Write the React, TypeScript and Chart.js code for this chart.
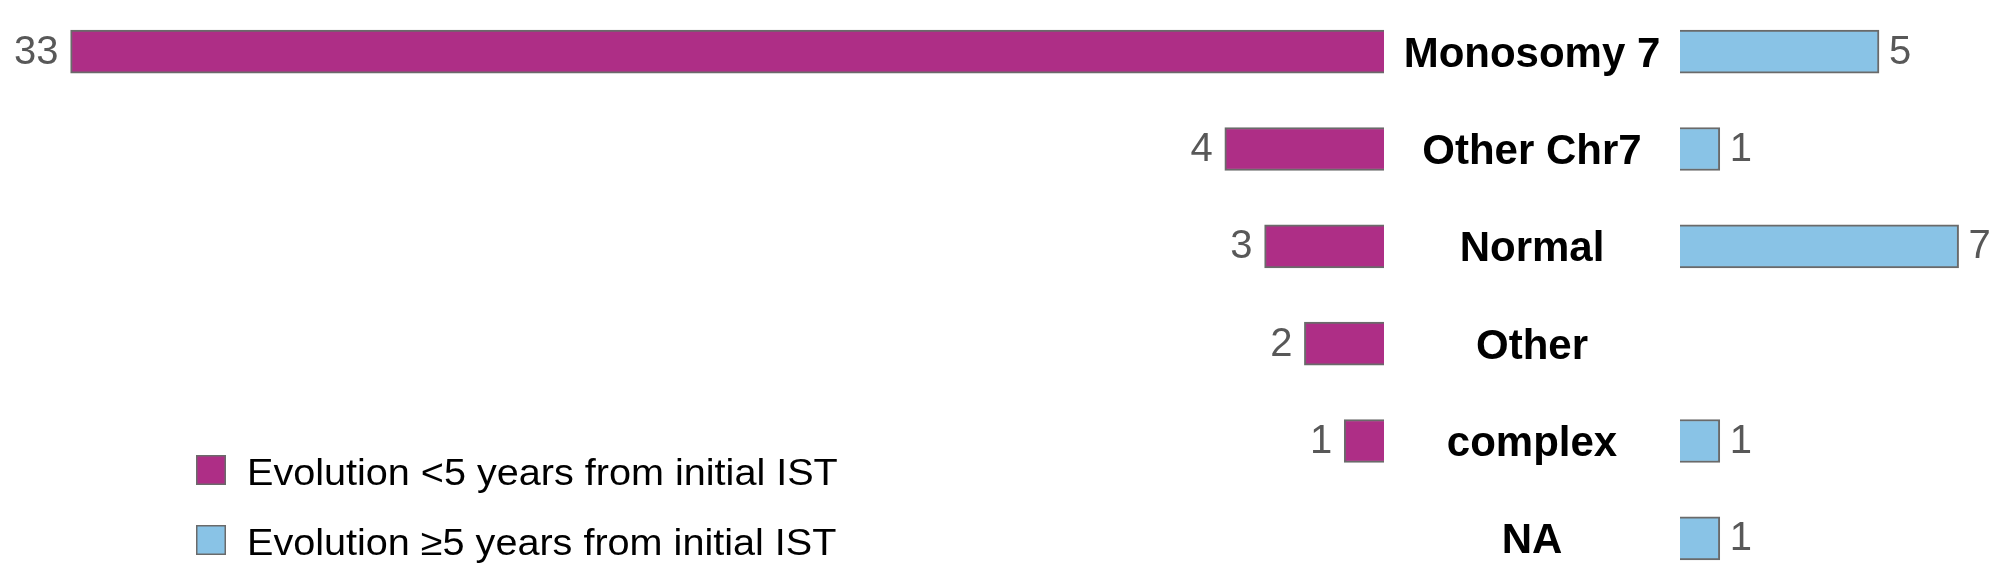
import React, { useEffect, useRef } from "react";
import { Chart, registerables } from "chart.js";

Chart.register(...registerables);

const categories = ["Monosomy 7", "Other Chr7", "Normal", "Other", "complex", "NA"];
const under5Years = [33, 4, 3, 2, 1, null];
const over5Years = [5, 1, 7, null, 1, 1];
const seriesNames = [
  "Evolution <5 years from initial IST",
  "Evolution \u22655 years from initial IST",
];

const FONT = '"Liberation Sans", Arial, Helvetica, sans-serif';
const W = 2000;
const H = 590;
const PX_PER_UNIT = 39.8;
const LEFT_ZERO_X = 1384;
const RIGHT_ZERO_X = 1680;
const MAGENTA = "#AE2E86";
const BLUE = "#89C3E6";
const BORDER = "#6a6a6a";

const labelsPlugin = {
  id: "customLabels",
  afterDatasetsDraw(chart: any) {
    const ctx = chart.ctx;
    ctx.save();
    // value labels
    ctx.font = `40px ${FONT}`;
    ctx.fillStyle = "#585858";
    ctx.textBaseline = "middle";
    chart.data.datasets.forEach((ds: any, di: number) => {
      const meta = chart.getDatasetMeta(di);
      meta.data.forEach((el: any, i: number) => {
        const v = ds.data[i];
        if (v === null || v === undefined) return;
        if (di === 0) {
          ctx.textAlign = "right";
          ctx.fillText(String(v), el.x - 12, el.y + 1);
        } else {
          ctx.textAlign = "left";
          ctx.fillText(String(v), el.x + 10, el.y + 1);
        }
      });
    });
    // category labels
    const yScale = chart.scales.y;
    const midX = (LEFT_ZERO_X + RIGHT_ZERO_X) / 2;
    ctx.font = `bold 42px ${FONT}`;
    ctx.fillStyle = "#000000";
    ctx.textAlign = "center";
    ctx.textBaseline = "alphabetic";
    chart.data.labels.forEach((lab: string, i: number) => {
      const y = yScale.getPixelForTick(i);
      ctx.fillText(lab, midX, y + 15);
    });
    // legend
    const legX = 196;
    const legY0 = 455;
    const legStep = 70;
    const box = 30;
    chart.data.datasets.forEach((ds: any, di: number) => {
      const top = legY0 + di * legStep;
      ctx.fillStyle = ds.backgroundColor;
      ctx.fillRect(legX, top, box, box);
      ctx.strokeStyle = BORDER;
      ctx.lineWidth = 1.5;
      ctx.strokeRect(legX + 0.75, top + 0.75, box - 1.5, box - 1.5);
      ctx.save();
      ctx.translate(247, top + 30);
      ctx.scale(1.07, 1);
      ctx.font = `37px ${FONT}`;
      ctx.fillStyle = "#000000";
      ctx.textAlign = "left";
      ctx.textBaseline = "alphabetic";
      ctx.fillText(ds.label, 0, 0);
      ctx.restore();
    });
    ctx.restore();
  },
};

export default function App() {
  const canvasRef = useRef<HTMLCanvasElement | null>(null);

  useEffect(() => {
    if (!canvasRef.current) return;
    const span = W / PX_PER_UNIT;
    const leftMin = -(W - LEFT_ZERO_X) / PX_PER_UNIT;
    const rightMin = -RIGHT_ZERO_X / PX_PER_UNIT;
    const chart = new Chart(canvasRef.current, {
      type: "bar",
      data: {
        labels: categories,
        datasets: [
          {
            label: seriesNames[0],
            data: under5Years,
            backgroundColor: MAGENTA,
            borderColor: BORDER,
            borderWidth: 2,
            xAxisID: "xL",
            yAxisID: "y",
            grouped: false,
            barThickness: 43,
          } as any,
          {
            label: seriesNames[1],
            data: over5Years,
            backgroundColor: BLUE,
            borderColor: BORDER,
            borderWidth: 2,
            xAxisID: "xR",
            yAxisID: "y",
            grouped: false,
            barThickness: 43,
          } as any,
        ],
      },
      options: {
        indexAxis: "y",
        animation: false,
        responsive: true,
        maintainAspectRatio: false,
        events: [],
        layout: { padding: { top: 3, bottom: 3, left: 0, right: 0 } },
        plugins: {
          legend: { display: false },
          tooltip: { enabled: false },
          title: { display: false },
        },
        scales: {
          xL: {
            type: "linear",
            display: false,
            reverse: true,
            min: leftMin,
            max: leftMin + span,
          },
          xR: {
            type: "linear",
            display: false,
            min: rightMin,
            max: rightMin + span,
          },
          y: {
            type: "category",
            display: false,
            offset: true,
          },
        },
      },
      plugins: [labelsPlugin],
    });
    return () => chart.destroy();
  }, []);

  return (
    <div
      style={{
        position: "fixed",
        left: 0,
        top: 0,
        width: W,
        height: 581,
        overflow: "hidden",
        background: "#ffffff",
      }}
    >
      <div style={{ position: "relative", width: W, height: H }}>
        <canvas ref={canvasRef} style={{ display: "block" }} />
      </div>
    </div>
  );
}
